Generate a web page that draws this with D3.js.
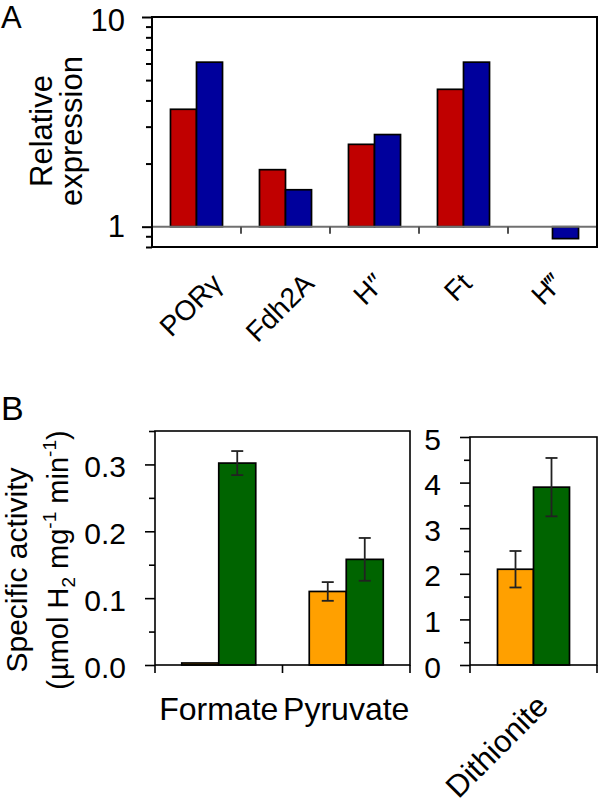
<!DOCTYPE html>
<html><head><meta charset="utf-8">
<script src="https://cdn.jsdelivr.net/npm/d3@7"></script>
<style>
body{margin:0;background:#fff}
text{font-family:"Liberation Sans",Arial,sans-serif;fill:#000}
</style>
</head><body>
<svg id="c" width="600" height="806"></svg>
<script>
// ---- Panel A data ----
const genes = ["PORγ", "Fdh2A", "H″", "Ft", "H‴"];
const redValues = [3.63, 1.87, 2.47, 4.52, null];
const blueValues = [6.09, 1.50, 2.75, 6.09, 0.877];
const yATicks = [1, 10];
const yAMinor = [0.8, 0.9, 2, 3, 4, 5, 6, 7, 8, 9];

// ---- Panel B data ----
const substrates = ["Formate", "Pyruvate"];
const orangeValues = [0.003, 0.110];
const orangeErrors = [0, 0.014];
const greenValues = [0.302, 0.158];
const greenErrors = [0.018, 0.032];
const yBTicks = [0, 0.1, 0.2, 0.3];
const yBMinor = [0.05, 0.15, 0.25, 0.35];

const dithionite = ["Dithionite"];
const orangeDith = [2.1];
const orangeDithErr = [0.4];
const greenDith = [3.9];
const greenDithErr = [0.64];
const yCTicks = [0, 1, 2, 3, 4, 5];
const yCMinor = [0.5, 1.5, 2.5, 3.5, 4.5];

const RED = "#c00000", BLUE = "#00009c", ORANGE = "#ffa000", GREEN = "#006400";

const svg = d3.select("#c");
svg.append("rect").attr("width", 600).attr("height", 806).attr("fill", "#fff");

// =============== Panel A ===============
const A = {l: 152, r: 597, t: 17, b: 247};
const xA = d3.scaleBand().domain(genes).range([A.l, A.r]);
const xAs = d3.scaleBand().domain(["red", "blue"]).range([0, xA.bandwidth()]).paddingOuter(0.71);
const yA = d3.scaleLog().domain([0.8, 10]).range([A.b, A.t]);

const seriesA = [{k: "red", vals: redValues, c: RED}, {k: "blue", vals: blueValues, c: BLUE}];
seriesA.forEach(s => {
  genes.forEach((g, i) => {
    const v = s.vals[i];
    if (v == null) return;
    const y0 = yA(1), y1 = yA(v);
    svg.append("rect")
      .attr("x", xA(g) + xAs(s.k)).attr("width", xAs.bandwidth())
      .attr("y", Math.min(y0, y1)).attr("height", Math.abs(y1 - y0))
      .attr("fill", s.c).attr("stroke", "#000").attr("stroke-width", 1.7);
  });
});
// baseline at 1
svg.append("line").attr("x1", A.l).attr("x2", A.r).attr("y1", yA(1)).attr("y2", yA(1))
  .attr("stroke", "#707070").attr("stroke-width", 2);
// separator ticks
genes.slice(1).forEach(g => {
  svg.append("line").attr("x1", xA(g)).attr("x2", xA(g)).attr("y1", yA(1)).attr("y2", yA(1) + 7)
    .attr("stroke", "#505050").attr("stroke-width", 2);
});
// box
svg.append("rect").attr("x", A.l).attr("y", A.t).attr("width", A.r - A.l).attr("height", A.b - A.t)
  .attr("fill", "none").attr("stroke", "#000").attr("stroke-width", 2);

function styleAxis(g, fs) {
  g.select(".domain").remove();
  g.selectAll(".tick line").attr("stroke", "#000").attr("stroke-width", 2);
  g.selectAll(".tick text").attr("font-size", fs).attr("fill", "#000")
    .attr("font-family", '"Liberation Sans",Arial,sans-serif');
}
const gAy = svg.append("g").attr("transform", `translate(${A.l},0)`)
  .call(d3.axisLeft(yA).tickValues(yATicks).tickFormat(d3.format("d")).tickSize(10).tickPadding(17));
styleAxis(gAy, 31);
gAy.selectAll(".tick text").attr("dy", (d) => d === 10 ? "0.45em" : "0.32em");
const gAym = svg.append("g").attr("transform", `translate(${A.l},0)`)
  .call(d3.axisLeft(yA).tickValues(yAMinor).tickFormat("").tickSize(6));
styleAxis(gAym, 1);

// rotated category labels
const fsA = 28;
genes.forEach(g => {
  const t = svg.append("text").attr("font-size", fsA).attr("text-anchor", "end").text(g);
  const L = t.node().getComputedTextLength();
  const h = 0.72 * fsA;
  const c = xA(g) + xA.bandwidth() / 2;
  const ax = c - 6 + (L + h) * 0.3535;
  const ay = 271 + h * 0.707;
  t.attr("transform", `translate(${ax},${ay}) rotate(-45)`);
});

// y title A
const tA = svg.append("g").attr("transform", "translate(52,131) rotate(-90)");
tA.append("text").attr("text-anchor", "middle").attr("font-size", 31).text("Relative");
tA.append("text").attr("text-anchor", "middle").attr("font-size", 31).attr("y", 30).text("expression");
svg.append("text").attr("x", 1).attr("y", 28).attr("font-size", 31).text("A");

// =============== Panel B ===============
function panel(P, cats, oV, oE, gV, gE, yDomain, ticks, minor, fmt, pad) {
  const x0 = d3.scaleBand().domain(cats).range([P.l, P.r]);
  const x1 = d3.scaleBand().domain(["o", "g"]).range([0, x0.bandwidth()]).paddingOuter(pad);
  const y = d3.scaleLinear().domain(yDomain).range([P.b, P.t]);
  const ser = [{k: "o", v: oV, e: oE, c: ORANGE}, {k: "g", v: gV, e: gE, c: GREEN}];
  ser.forEach(s => {
    cats.forEach((cat, i) => {
      const v = s.v[i];
      svg.append("rect").attr("x", x0(cat) + x1(s.k)).attr("width", x1.bandwidth())
        .attr("y", y(v)).attr("height", y(0) - y(v))
        .attr("fill", s.c).attr("stroke", "#000").attr("stroke-width", 1.7);
    });
  });
  ser.forEach(s => {
    cats.forEach((cat, i) => {
      const v = s.v[i], e = s.e[i];
      if (!e) return;
      const cx = x0(cat) + x1(s.k) + x1.bandwidth() / 2;
      const g = svg.append("g").attr("stroke", "#222").attr("stroke-width", 1.8);
      g.append("line").attr("x1", cx).attr("x2", cx).attr("y1", y(v - e)).attr("y2", y(v + e));
      g.append("line").attr("x1", cx - 6).attr("x2", cx + 6).attr("y1", y(v - e)).attr("y2", y(v - e));
      g.append("line").attr("x1", cx - 6).attr("x2", cx + 6).attr("y1", y(v + e)).attr("y2", y(v + e));
    });
  });
  svg.append("rect").attr("x", P.l).attr("y", P.t).attr("width", P.r - P.l).attr("height", P.b - P.t)
    .attr("fill", "none").attr("stroke", "#000").attr("stroke-width", 1.6);
  const ga = svg.append("g").attr("transform", `translate(${P.l},0)`)
    .call(d3.axisLeft(y).tickValues(ticks).tickFormat(d3.format(fmt)).tickSize(10).tickPadding(19));
  styleAxis(ga, 30);
  ga.selectAll(".tick line").attr("stroke-width", 1.6);
  ga.selectAll(".tick text").attr("dy", "0.4em");
  const gm = svg.append("g").attr("transform", `translate(${P.l},0)`)
    .call(d3.axisLeft(y).tickValues(minor).tickFormat("").tickSize(6));
  styleAxis(gm, 1);
  gm.selectAll(".tick line").attr("stroke-width", 1.6);
  const xs = cats.map(c => x0(c)).concat([P.r]);
  xs.forEach(xx => {
    svg.append("line").attr("x1", xx).attr("x2", xx).attr("y1", P.b).attr("y2", P.b + 8)
      .attr("stroke", "#000").attr("stroke-width", 1.6);
  });
  return x0;
}

const B1 = {l: 155, r: 410, t: 431, b: 665};
const xB = panel(B1, substrates, orangeValues, orangeErrors, greenValues, greenErrors,
  [0, 0.35], yBTicks, yBMinor, ".1f", 0.723);
substrates.forEach(s => {
  svg.append("text").attr("x", xB(s) + xB.bandwidth() / 2).attr("y", 720)
    .attr("text-anchor", "middle").attr("font-size", 32).text(s);
});

const C = {l: 470, r: 597, t: 437, b: 665};
const xC = panel(C, dithionite, orangeDith, orangeDithErr, greenDith, greenDithErr,
  [0, 5], yCTicks, yCMinor, "d", 0.764);
svg.append("text").attr("text-anchor", "end").attr("font-size", 31)
  .attr("transform", `translate(550,708) rotate(-45)`).text(dithionite[0]);

// y title B
const tB = svg.append("g").attr("transform", "translate(27,570) rotate(-90)");
tB.append("text").attr("text-anchor", "middle").attr("font-size", 30).text("Specific activity");
const l2 = tB.append("text").attr("text-anchor", "middle").attr("font-size", 29).attr("x", 10).attr("y", 41);
l2.append("tspan").text("(µmol H");
l2.append("tspan").attr("font-size", 19).attr("dy", 7).text("2");
l2.append("tspan").attr("dy", -7).text(" mg");
l2.append("tspan").attr("font-size", 19).attr("dy", -12).text("-1");
l2.append("tspan").attr("dy", 12).text(" min");
l2.append("tspan").attr("font-size", 19).attr("dy", -12).text("-1");
l2.append("tspan").attr("dy", 12).text(")");
svg.append("text").attr("x", 1).attr("y", 420).attr("font-size", 34).text("B");
</script>
</body></html>
